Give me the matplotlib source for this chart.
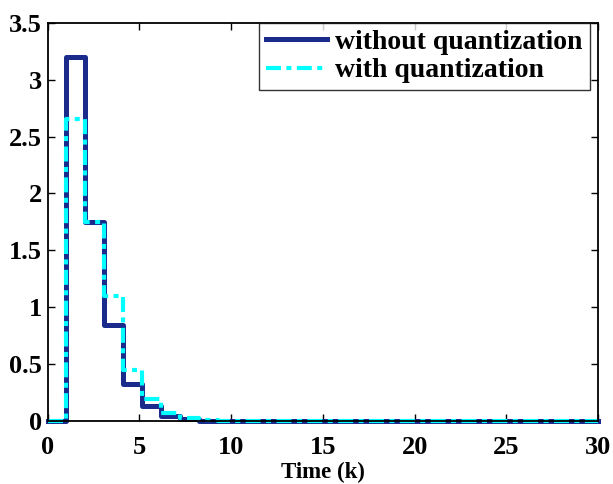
import numpy as np
import matplotlib
matplotlib.use("Agg")
import matplotlib.pyplot as plt

# Sampling instants (30 samples spread over the 0..30 time window)
time_k = np.linspace(0, 30, 30)

without_quantization = [0, 3.20, 1.75, 0.84, 0.325, 0.134, 0.047, 0.016, 0.005, 0.002,
                        0, 0, 0, 0, 0, 0, 0, 0, 0, 0,
                        0, 0, 0, 0, 0, 0, 0, 0, 0, 0]
with_quantization = [0, 2.65, 1.75, 1.10, 0.45, 0.19, 0.073, 0.03, 0.01, 0.003,
                     0, 0, 0, 0, 0, 0, 0, 0, 0, 0,
                     0, 0, 0, 0, 0, 0, 0, 0, 0, 0]

x_ticks = [0, 5, 10, 15, 20, 25, 30]
y_ticks = [0, 0.5, 1, 1.5, 2, 2.5, 3, 3.5]
y_tick_labels = ["0", "0.5", "1", "1.5", "2", "2.5", "3", "3.5"]

plt.rcParams["font.family"] = ["Liberation Serif", "DejaVu Serif"]
plt.rcParams["font.weight"] = "bold"

fig = plt.figure(figsize=(6.13, 4.84), dpi=100)
ax = fig.add_axes([0.0775, 0.130, 0.8985, 0.823])

ax.step(time_k, without_quantization, where="post", color="#1a2b8c",
        linewidth=3.6, label="without quantization", clip_on=False)
ax.step(time_k, with_quantization, where="post", color="#00ffff",
        linewidth=3.0, linestyle=(0, (3.6, 1.3, 1.2, 1.3)),
        label="with quantization", clip_on=False)

ax.set_xlim(0, 30)
ax.set_ylim(0, 3.5)
ax.set_xticks(x_ticks)
ax.set_xticklabels([str(t) for t in x_ticks])
ax.set_yticks(y_ticks)
ax.set_yticklabels(y_tick_labels)
ax.tick_params(direction="in", length=5, width=1, top=True, right=True,
               labelsize=19)
ax.tick_params(axis="x", pad=11)
ax.tick_params(axis="y", pad=4)
for lab in ax.get_xticklabels() + ax.get_yticklabels():
    lab.set_fontweight("bold")
for sp in ax.spines.values():
    sp.set_linewidth(1.3)

ax.set_xlabel("Time (k)", fontsize=16.5, fontweight="bold", labelpad=2)

leg = ax.legend(loc="upper right", bbox_to_anchor=(0.9845, 1.0), fontsize=20,
                frameon=True, fancybox=False, edgecolor="black",
                handlelength=2.2, borderpad=0.25, labelspacing=0.1,
                handletextpad=0.3, borderaxespad=0.0)
leg.get_frame().set_linewidth(1.0)
for t in leg.get_texts():
    t.set_fontweight("bold")

fig.savefig("out.png", dpi=100)
